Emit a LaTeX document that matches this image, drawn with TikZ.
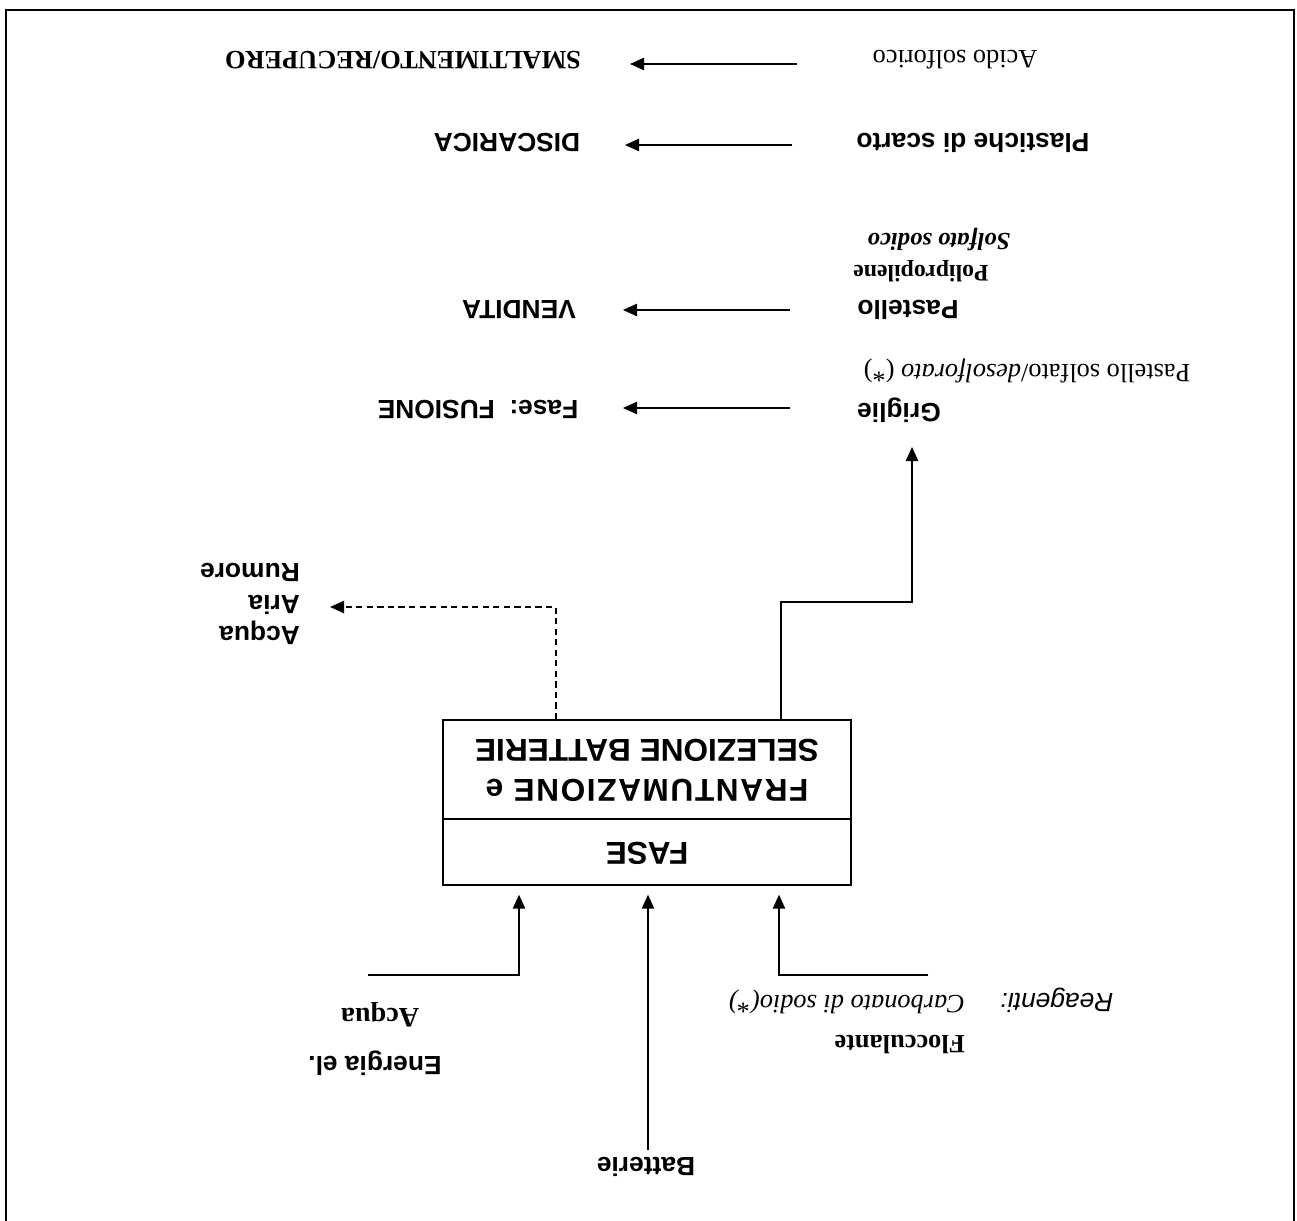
\documentclass[tikz,border=0pt]{standalone}
\usepackage{fontspec}
\setmainfont{Liberation Serif}
\setsansfont{Liberation Sans}
\usetikzlibrary{arrows.meta}
\begin{document}
\begin{tikzpicture}[x=0.02cm,y=-0.02cm,
  flip/.style={rotate=180, inner sep=0pt, outer sep=0pt},
  sflab/.style={flip, font=\sffamily\bfseries\fontsize{15}{18}\selectfont},
  rmlab/.style={flip, font=\rmfamily\fontsize{15}{18}\selectfont},
  boxtext/.style={flip, font=\sffamily\bfseries\fontsize{18}{22.7}\selectfont, align=center},
  flow/.style={line width=0.9pt, -{Triangle[length=8pt,width=7pt]}},
  emission/.style={flow, dash pattern=on 3.5pt off 2.5pt},
]
\useasboundingbox (0,0) rectangle (1297,1220);

% outer frame, open at the foot
\draw[line width=1.1pt] (6,1225) -- (6,10) -- (1294,10) -- (1294,1225);

% process box
\node[draw, line width=1pt, minimum width=8.16cm, minimum height=3.3cm,
      inner sep=0pt] (box) at (647,802.5) {};
\draw[line width=1pt] (box.west |- 0,819) -- (box.east |- 0,819);
\node[boxtext] (fase) at (647,853) {FASE};
\node[boxtext] (fasename) at (647,770)
  {{\addfontfeature{LetterSpace=5}FRANTUMAZIONE e}\\SELEZIONE BATTERIE};

% output flows
\node[rmlab] (acido) at (955,60) {Acido solforico};
\node[rmlab, font=\rmfamily\bfseries\fontsize{15}{18}\selectfont] (smalt) at (403,60) {SMALTIMENTO/RECUPERO};
\coordinate (a1s) at (797,64);
\coordinate (a1e) at (630,64);
\draw[flow] (a1s) -- (a1e);

\node[sflab] (plast) at (973,143) {Plastiche di scarto};
\node[sflab] (disc) at (507,143) {DISCARICA};
\coordinate (a2s) at (792,145);
\coordinate (a2e) at (625,145);
\draw[flow] (a2s) -- (a2e);

\node[rmlab, font=\rmfamily\bfseries\itshape\fontsize{14}{17}\selectfont] (solfato) at (939,240) {Solfato sodico};
\node[rmlab, font=\rmfamily\bfseries\fontsize{13.5}{17}\selectfont] (polip) at (921,271) {Polipropilene};
\node[sflab] (pastello) at (908,310) {Pastello};
\node[sflab] (vendita) at (519,310) {VENDITA};
\coordinate (a3s) at (790,310);
\coordinate (a3e) at (623,310);
\draw[flow] (a3s) -- (a3e);

\node[rmlab] (pastsolf) at (1027,371) {Pastello solfato/\textit{desolforato} (*)};
\node[sflab] (griglie) at (899,410) {Griglie};
\node[sflab] (fusione) at (478,410) {Fase:\ \ FUSIONE};
\coordinate (a4s) at (790,408);
\coordinate (a4e) at (623,408);
\draw[flow] (a4s) -- (a4e);

% flows leaving the box
\coordinate (gx) at (781,0);
\coordinate (gtip) at (912,447);
\draw[flow] (box.north -| gx) |- (gtip |- 0,602) -- (gtip);

\node[sflab, align=left, font=\sffamily\bfseries\fontsize{15}{17.9}\selectfont] (emiss) at (250,604) {Acqua\\Aria\\Rumore};
\coordinate (dx) at (556,0);
\coordinate (dtip) at (330,607);
\draw[emission] (box.north -| dx) |- (dtip);

% flows entering the box
\node[rmlab, font=\rmfamily\bfseries\fontsize{16}{18}\selectfont] (acqua) at (380,1015) {Acqua};
\node[sflab] (energia) at (375,1063) {Energia el.};
\node[sflab] (batterie) at (646,1167) {Batterie};
\node[rmlab, align=left, font=\rmfamily\fontsize{15}{22.7}\selectfont] (reag) at (847,1022)
  {\textbf{Flocculante}\\\textit{Carbonato di sodio(*)}};
\node[flip, font=\sffamily\itshape\fontsize{15}{18}\selectfont] (reagenti) at (1057,1000) {Reagenti:};

\coordinate (ein) at (368,975);
\coordinate (ex) at (519,0);
\draw[flow, shorten >=5pt] (ein) -| (box.south -| ex);
\coordinate (bin) at (648,1150);
\draw[flow, shorten >=5pt] (bin) -- (box.south -| bin);
\coordinate (rin) at (928,975);
\coordinate (rx) at (779,0);
\draw[flow, shorten >=5pt] (rin) -| (box.south -| rx);
\end{tikzpicture}
\end{document}
